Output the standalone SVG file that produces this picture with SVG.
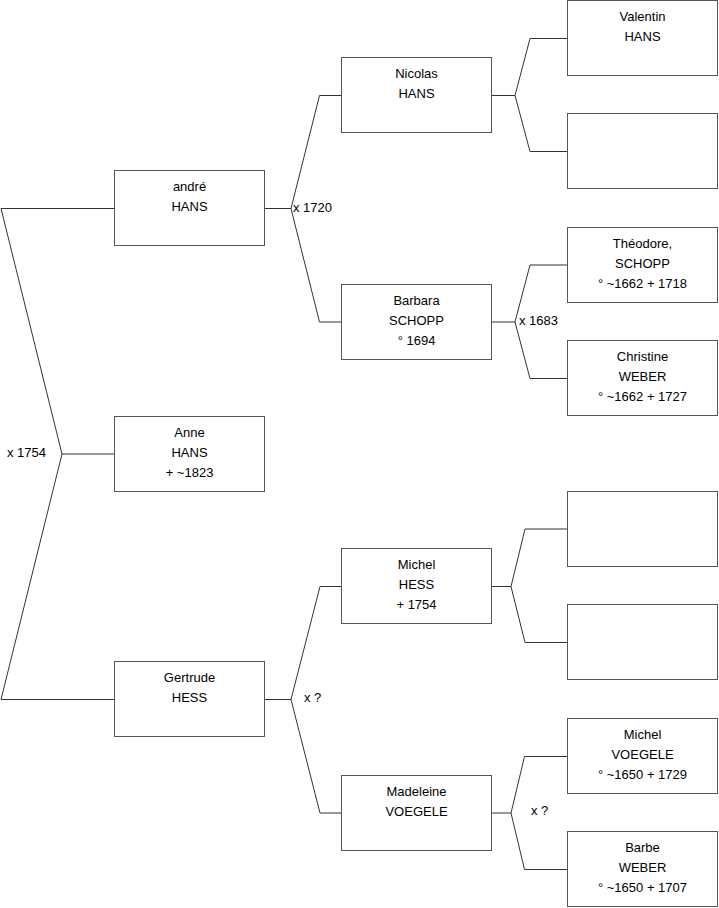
<svg xmlns="http://www.w3.org/2000/svg" width="719" height="908" viewBox="0 0 719 908">
<style>
.box{fill:#fff;stroke:#555;stroke-width:1}
.ln{fill:none;stroke:#333;stroke-width:1}
text{font-family:"Liberation Sans",Arial,sans-serif;font-size:13px;fill:#000}
.c{text-anchor:middle}
</style>
<rect width="719" height="908" fill="#fff"/>
<g id="connectors">
<path class="ln" d="M114 208.5H1L62 454L1 699.5H114M62 454H114"/>
<path class="ln" d="M265 208.5H291L319.5 95.5H341M291 208.5L319.5 322H341"/>
<path class="ln" d="M492 95.5H515L530 38.5H567M515 95.5L530 151.5H567"/>
<path class="ln" d="M492 322H515L530 265H567M515 322L530 378.5H567"/>
<path class="ln" d="M265 699.5H291L320 586.5H341M291 699.5L320 813H341"/>
<path class="ln" d="M492 586.5H511L525 529H567M511 586.5L525 642.5H567"/>
<path class="ln" d="M492 813H511L524.5 756.5H567M511 813L524.5 869.5H567"/>
<text x="7" y="457">x 1754</text>
<text x="293" y="212">x 1720</text>
<text x="519" y="325">x 1683</text>
<text x="304" y="702">x ?</text>
<text x="531" y="815">x ?</text>
</g>
<g id="andre"><rect class="box" x="114.5" y="170.5" width="150" height="75"/><text class="c" x="189.5" y="190.5">andré</text><text class="c" x="189.5" y="210.5">HANS</text></g>
<g id="anne"><rect class="box" x="114.5" y="416.5" width="150" height="75"/><text class="c" x="189.5" y="436.5">Anne</text><text class="c" x="189.5" y="456.5">HANS</text><text class="c" x="189.5" y="476.5">+ ~1823</text></g>
<g id="gertrude"><rect class="box" x="114.5" y="661.5" width="150" height="75"/><text class="c" x="189.5" y="681.5">Gertrude</text><text class="c" x="189.5" y="701.5">HESS</text></g>
<g id="nicolas"><rect class="box" x="341.5" y="57.5" width="150" height="75"/><text class="c" x="416.5" y="77.5">Nicolas</text><text class="c" x="416.5" y="97.5">HANS</text></g>
<g id="barbara"><rect class="box" x="341.5" y="284.5" width="150" height="75"/><text class="c" x="416.5" y="304.5">Barbara</text><text class="c" x="416.5" y="324.5">SCHOPP</text><text class="c" x="416.5" y="344.5">° 1694</text></g>
<g id="michel-hess"><rect class="box" x="341.5" y="548.5" width="150" height="75"/><text class="c" x="416.5" y="568.5">Michel</text><text class="c" x="416.5" y="588.5">HESS</text><text class="c" x="416.5" y="608.5">+ 1754</text></g>
<g id="madeleine"><rect class="box" x="341.5" y="775.5" width="150" height="75"/><text class="c" x="416.5" y="795.5">Madeleine</text><text class="c" x="416.5" y="815.5">VOEGELE</text></g>
<g id="valentin"><rect class="box" x="567.5" y="0.5" width="150" height="75"/><text class="c" x="642.5" y="20.5">Valentin</text><text class="c" x="642.5" y="40.5">HANS</text></g>
<g id="empty1"><rect class="box" x="567.5" y="113.5" width="150" height="75"/></g>
<g id="theodore"><rect class="box" x="567.5" y="227.5" width="150" height="75"/><text class="c" x="642.5" y="247.5">Théodore,</text><text class="c" x="642.5" y="267.5">SCHOPP</text><text class="c" x="642.5" y="287.5">° ~1662 + 1718</text></g>
<g id="christine"><rect class="box" x="567.5" y="340.5" width="150" height="75"/><text class="c" x="642.5" y="360.5">Christine</text><text class="c" x="642.5" y="380.5">WEBER</text><text class="c" x="642.5" y="400.5">° ~1662 + 1727</text></g>
<g id="empty2"><rect class="box" x="567.5" y="491.5" width="150" height="75"/></g>
<g id="empty3"><rect class="box" x="567.5" y="604.5" width="150" height="75"/></g>
<g id="michel-voegele"><rect class="box" x="567.5" y="718.5" width="150" height="75"/><text class="c" x="642.5" y="738.5">Michel</text><text class="c" x="642.5" y="758.5">VOEGELE</text><text class="c" x="642.5" y="778.5">° ~1650 + 1729</text></g>
<g id="barbe"><rect class="box" x="567.5" y="831.5" width="150" height="75"/><text class="c" x="642.5" y="851.5">Barbe</text><text class="c" x="642.5" y="871.5">WEBER</text><text class="c" x="642.5" y="891.5">° ~1650 + 1707</text></g>
</svg>
